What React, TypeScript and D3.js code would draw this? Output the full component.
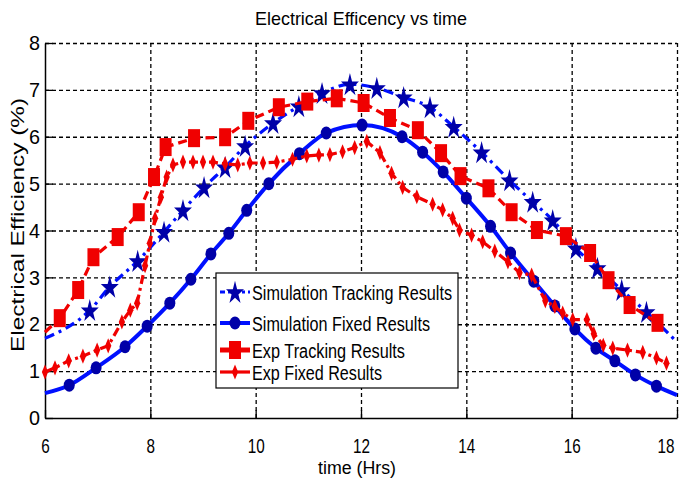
import React, { useRef, useEffect } from 'react';
import * as d3 from 'd3';

// Simulation tracking (stars, dash-dot)
const simTrackHours = [6.0, 6.85, 7.23, 7.76, 8.26, 8.62, 9.02, 9.42, 9.8, 10.33, 10.82, 11.26, 11.79, 12.3, 12.81, 13.31, 13.76, 14.29, 14.82, 15.26, 15.64, 16.08, 16.49, 16.95, 17.42, 18.0];
const simTrackValues = [1.7, 2.3, 2.8, 3.35, 3.97, 4.43, 4.92, 5.35, 5.8, 6.29, 6.65, 6.93, 7.12, 7.04, 6.84, 6.63, 6.21, 5.67, 5.07, 4.61, 4.22, 3.62, 3.2, 2.73, 2.26, 1.62];

// Simulation fixed (circles, solid)
const simFixedHours = [6.0, 6.46, 6.97, 7.52, 7.94, 8.37, 8.77, 9.15, 9.49, 9.83, 10.25, 10.83, 11.34, 12.02, 12.78, 13.17, 13.56, 14.0, 14.46, 14.84, 15.28, 15.68, 16.06, 16.46, 16.82, 17.21, 17.61, 18.0];
const simFixedValues = [0.53, 0.7, 1.07, 1.52, 1.96, 2.45, 2.96, 3.5, 3.94, 4.43, 5.0, 5.64, 6.08, 6.25, 6.0, 5.67, 5.25, 4.69, 4.09, 3.52, 2.92, 2.39, 1.9, 1.49, 1.22, 0.92, 0.68, 0.49];

// Experimental tracking (squares, dashed)
const expTrackHours = [6.0, 6.28, 6.63, 6.92, 7.38, 7.78, 8.07, 8.29, 8.83, 9.42, 9.86, 10.44, 10.98, 11.54, 12.05, 12.55, 13.08, 13.52, 13.89, 14.42, 14.86, 15.34, 15.89, 16.35, 16.7, 17.1, 17.63];
const expTrackValues = [1.83, 2.13, 2.73, 3.43, 3.86, 4.39, 5.14, 5.78, 5.97, 5.99, 6.34, 6.63, 6.75, 6.82, 6.72, 6.4, 6.14, 5.65, 5.16, 4.9, 4.39, 4.01, 3.88, 3.52, 2.94, 2.41, 2.03];

// Experimental fixed (small markers, dash-dot)
const expFixedHours = [6.0, 6.19, 6.45, 6.72, 6.99, 7.2, 7.46, 7.62, 7.75, 7.9, 7.99, 8.09, 8.2, 8.31, 8.43, 8.62, 8.81, 9.0, 9.19, 9.42, 9.66, 9.89, 10.14, 10.4, 10.7, 10.97, 11.2, 11.41, 11.65, 11.88, 12.11, 12.36, 12.58, 12.79, 13.06, 13.36, 13.55, 13.74, 13.87, 14.1, 14.31, 14.54, 14.79, 15.01, 15.24, 15.5, 15.68, 15.83, 16.02, 16.29, 16.42, 16.6, 16.78, 17.06, 17.35, 17.61, 17.8];
const expFixedValues = [0.98, 1.07, 1.22, 1.32, 1.45, 1.54, 2.05, 2.3, 2.45, 3.25, 3.73, 4.26, 4.71, 5.14, 5.4, 5.46, 5.46, 5.46, 5.46, 5.42, 5.4, 5.44, 5.44, 5.46, 5.52, 5.59, 5.61, 5.62, 5.68, 5.77, 5.9, 5.66, 5.22, 4.92, 4.72, 4.56, 4.44, 4.26, 4.01, 3.9, 3.76, 3.56, 3.33, 3.1, 3.05, 2.5, 2.38, 2.24, 2.1, 2.1, 1.8, 1.55, 1.49, 1.45, 1.4, 1.28, 1.17];

const xTicks = [6, 8, 10, 12, 14, 16, 18];
const yTicks = [0, 1, 2, 3, 4, 5, 6, 7, 8];
const legendLabels = ["Simulation Tracking Results", "Simulation Fixed Results", "Exp Tracking Results", "Exp Fixed Results"];

const FONT = "'Liberation Sans', Arial, sans-serif";
const RED = "#f00000";
const BLUE = "#0010ff";
const NAVY = "#0000a8";

export default function App() {
    const svgRef = useRef<SVGSVGElement>(null);

    useEffect(() => {
        if (!svgRef.current) return;
        const svg = d3.select(svgRef.current);
        svg.selectAll("*").remove();

        const left = 45, right = 677, top = 43, bottom = 418;
        const x = d3.scaleLinear().domain([6, 18]).range([left, right]);
        const y = d3.scaleLinear().domain([0, 8]).range([bottom, top]);

        svg.append("rect").attr("width", 681).attr("height", 480).attr("fill", "#fff");

        // Grid
        const gx = svg.append("g")
            .attr("transform", `translate(0,${bottom})`)
            .call(d3.axisBottom(x).tickValues(xTicks.slice(1)).tickSize(-(bottom - top)).tickFormat(() => ""));
        gx.select(".domain").remove();
        gx.selectAll("line").attr("stroke", "#000").attr("stroke-width", 1.3).attr("stroke-dasharray", "4 3");

        const gy = svg.append("g")
            .attr("transform", `translate(${left},0)`)
            .call(d3.axisLeft(y).tickValues(yTicks.slice(1)).tickSize(-(right - left)).tickFormat(() => ""));
        gy.select(".domain").remove();
        gy.selectAll("line").attr("stroke", "#000").attr("stroke-width", 1.3).attr("stroke-dasharray", "4 3");

        // Axes
        const ax = svg.append("g")
            .attr("transform", `translate(0,${bottom})`)
            .call(d3.axisBottom(x).tickValues(xTicks).tickSizeInner(-8).tickSizeOuter(0).tickPadding(21));
        ax.select(".domain").attr("stroke", "#000").attr("stroke-width", 1.5);
        ax.selectAll("line").attr("stroke", "#000").attr("stroke-width", 1.3);
        ax.selectAll<SVGTextElement, number>("text")
            .attr("fill", "#000")
            .attr("textLength", d => String(d).length * 8.5)
            .attr("lengthAdjust", "spacingAndGlyphs")
            .attr("text-anchor", d => (d === 18 ? "end" : "middle"))
            .attr("dx", d => (d === 18 ? -3 : 0))
            .style("font-family", FONT)
            .style("font-size", "20px");

        const ay = svg.append("g")
            .attr("transform", `translate(${left},0)`)
            .call(d3.axisLeft(y).tickValues(yTicks).tickSizeInner(-8).tickSizeOuter(0).tickPadding(5));
        ay.select(".domain").attr("stroke", "#000").attr("stroke-width", 1.5);
        ay.selectAll("line").attr("stroke", "#000").attr("stroke-width", 1.3);
        ay.selectAll("text")
            .attr("fill", "#000")
            .attr("textLength", 11)
            .attr("lengthAdjust", "spacingAndGlyphs")
            .style("font-family", FONT)
            .style("font-size", "21px");

        // Titles
        svg.append("text")
            .attr("x", 361).attr("y", 25)
            .attr("text-anchor", "middle")
            .attr("textLength", 212).attr("lengthAdjust", "spacingAndGlyphs")
            .style("font-family", FONT).style("font-size", "19px")
            .text("Electrical Efficency vs time");

        svg.append("text")
            .attr("x", 357).attr("y", 474)
            .attr("text-anchor", "middle")
            .attr("textLength", 78).attr("lengthAdjust", "spacingAndGlyphs")
            .style("font-family", FONT).style("font-size", "18px")
            .text("time (Hrs)");

        svg.append("text")
            .attr("transform", "translate(24,225) rotate(-90)")
            .attr("text-anchor", "middle")
            .attr("textLength", 254).attr("lengthAdjust", "spacingAndGlyphs")
            .style("font-family", FONT).style("font-size", "18px")
            .text("Electrical Efficiency (%)");

        const zip = (hs: number[], vs: number[]) => hs.map((h, i) => ({ h, v: vs[i] }));
        const simT = zip(simTrackHours, simTrackValues);
        const simF = zip(simFixedHours, simFixedValues);
        const expT = zip(expTrackHours, expTrackValues);
        const expF = zip(expFixedHours, expFixedValues);

        const smooth = d3.line<{ h: number, v: number }>().x(d => x(d.h)).y(d => y(d.v)).curve(d3.curveMonotoneX);
        const straight = d3.line<{ h: number, v: number }>().x(d => x(d.h)).y(d => y(d.v));

        const plot = svg.append("g");
        const star = d3.symbol().type(d3.symbolStar).size(100);
        const diamond = d3.symbol().type(d3.symbolDiamond).size(34);

        // Simulation tracking
        plot.append("path").datum(simT).attr("d", smooth)
            .attr("fill", "none").attr("stroke", BLUE).attr("stroke-width", 3.2)
            .attr("stroke-dasharray", "10 5 3 5");
        plot.selectAll(".star").data(simT.slice(1, -1)).enter().append("path")
            .attr("d", star())
            .attr("transform", d => `translate(${x(d.h)},${y(d.v) + 1}) scale(1,1.3)`)
            .attr("fill", NAVY);

        // Simulation fixed
        plot.append("path").datum(simF).attr("d", smooth)
            .attr("fill", "none").attr("stroke", BLUE).attr("stroke-width", 4);
        plot.selectAll(".dot").data(simF.slice(1, -1)).enter().append("ellipse")
            .attr("cx", d => x(d.h)).attr("cy", d => y(d.v))
            .attr("rx", 5.5).attr("ry", 6.5)
            .attr("fill", NAVY);

        // Exp tracking
        plot.append("path").datum(expT).attr("d", straight)
            .attr("fill", "none").attr("stroke", RED).attr("stroke-width", 3.2)
            .attr("stroke-dasharray", "9 5");
        plot.selectAll(".sq").data(expT.slice(1)).enter().append("rect")
            .attr("x", d => x(d.h) - 6).attr("y", d => y(d.v) - 9)
            .attr("width", 12).attr("height", 18)
            .attr("fill", RED);

        // Exp fixed
        plot.append("path").datum(expF).attr("d", straight)
            .attr("fill", "none").attr("stroke", RED).attr("stroke-width", 3.2)
            .attr("stroke-dasharray", "9 4 3 4");
        plot.selectAll(".dm").data(expF).enter().append("path")
            .attr("d", diamond())
            .attr("transform", d => `translate(${x(d.h)},${y(d.v)}) scale(1,1.4)`)
            .attr("fill", RED);

        // Legend
        const lg = svg.append("g");
        lg.append("rect")
            .attr("x", 216).attr("y", 273).attr("width", 242).attr("height", 115)
            .attr("fill", "#fff").attr("stroke", "#000").attr("stroke-width", 1.2);

        const rowY = [292, 323, 350, 372];
        const textY = [300, 331, 358, 380];
        const textLen = [200, 178, 153, 130];

        lg.append("line").attr("x1", 220).attr("x2", 250).attr("y1", rowY[0]).attr("y2", rowY[0])
            .attr("stroke", BLUE).attr("stroke-width", 3.2).attr("stroke-dasharray", "5 3 3 3");
        lg.append("path").attr("d", star()).attr("transform", `translate(235,${rowY[0] + 1}) scale(1,1.3)`).attr("fill", NAVY);

        lg.append("line").attr("x1", 220).attr("x2", 250).attr("y1", rowY[1]).attr("y2", rowY[1])
            .attr("stroke", BLUE).attr("stroke-width", 4);
        lg.append("ellipse").attr("cx", 235).attr("cy", rowY[1]).attr("rx", 5.5).attr("ry", 6.5).attr("fill", NAVY);

        lg.append("line").attr("x1", 220).attr("x2", 250).attr("y1", rowY[2]).attr("y2", rowY[2])
            .attr("stroke", RED).attr("stroke-width", 5);
        lg.append("rect").attr("x", 229).attr("y", rowY[2] - 9).attr("width", 12).attr("height", 18).attr("fill", RED);

        lg.append("line").attr("x1", 220).attr("x2", 250).attr("y1", rowY[3]).attr("y2", rowY[3])
            .attr("stroke", RED).attr("stroke-width", 3.2);
        lg.append("path").attr("d", diamond()).attr("transform", `translate(235,${rowY[3]}) scale(1,1.4)`).attr("fill", RED);

        lg.selectAll(".lt").data(legendLabels).enter().append("text")
            .attr("x", 252).attr("y", (d, i) => textY[i])
            .attr("textLength", (d, i) => textLen[i]).attr("lengthAdjust", "spacingAndGlyphs")
            .style("font-family", FONT).style("font-size", "20px")
            .attr("fill", "#000")
            .text(d => d);
    }, []);

    return (
        <svg ref={svgRef} width={681} height={480} style={{ position: 'absolute', left: 0, top: 0 }} />
    );
}
